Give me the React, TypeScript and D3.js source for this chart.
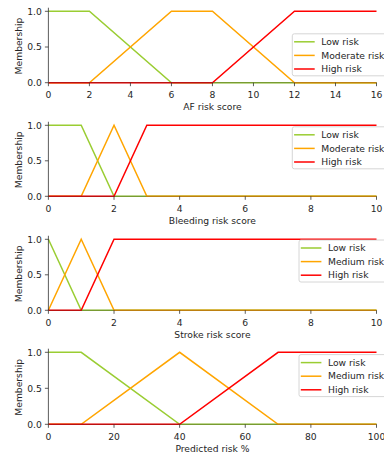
import React from "react";
import * as d3 from "d3";

// ---- data ----
const panelTitles = ["AF risk score", "Bleeding risk score", "Stroke risk score", "Predicted risk %"];
const xMaxes = [16, 10, 10, 100];
const xTicks = [
  [0, 2, 4, 6, 8, 10, 12, 14, 16],
  [0, 2, 4, 6, 8, 10],
  [0, 2, 4, 6, 8, 10],
  [0, 20, 40, 60, 80, 100],
];
const yTicks = [0, 0.5, 1.0];
const seriesNames = [
  ["Low risk", "Moderate risk", "High risk"],
  ["Low risk", "Moderate risk", "High risk"],
  ["Low risk", "Medium risk", "High risk"],
  ["Low risk", "Medium risk", "High risk"],
];

const afX = [0, 2, 6, 8, 12, 16];
const afLow = [1, 1, 0, 0, 0, 0];
const afModerate = [0, 0, 1, 1, 0, 0];
const afHigh = [0, 0, 0, 0, 1, 1];

const bleedX = [0, 1, 2, 3, 10];
const bleedLow = [1, 1, 0, 0, 0];
const bleedModerate = [0, 0, 1, 0, 0];
const bleedHigh = [0, 0, 0, 1, 1];

const strokeX = [0, 1, 2, 10];
const strokeLow = [1, 0, 0, 0];
const strokeMedium = [0, 1, 0, 0];
const strokeHigh = [0, 0, 1, 1];

const predX = [0, 10, 40, 70, 100];
const predLow = [1, 1, 0, 0, 0];
const predMedium = [0, 0, 1, 0, 0];
const predHigh = [0, 0, 0, 1, 1];

const panelX = [afX, bleedX, strokeX, predX];
const panelSeries = [
  [afLow, afModerate, afHigh],
  [bleedLow, bleedModerate, bleedHigh],
  [strokeLow, strokeMedium, strokeHigh],
  [predLow, predMedium, predHigh],
];

// ---- layout / style ----
const colors = ["#9acd32", "#ffa500", "#ff0000"];
const X0 = 48.4;
const X1 = 376.5;
const y0s = [82.7, 196.3, 310.3, 424.3];
const y1s = [11.3, 125.3, 239.3, 352.3];
const legendLeft = [292.3, 292.3, 299, 299];
const legendTop = [33.8, 126.8, 240, 354.6];
const FONT = "DejaVu Sans, sans-serif";
const FS = 9.2;
const TXT = "#262626";
const SPINE = "#333333";

function Panel({ i }: { i: number }) {
  const x = d3.scaleLinear().domain([0, xMaxes[i]]).range([X0, X1]);
  const y = d3.scaleLinear().domain([0, 1]).range([y0s[i], y1s[i]]);
  const xs = panelX[i];
  const line = d3
    .line<number>()
    .x((_, k) => x(xs[k]))
    .y((v) => y(v));
  const top = y(1.05);
  const y0 = y(0);
  const lt = legendTop[i];
  const ll = legendLeft[i];
  return (
    <g>
      {panelSeries[i].map((s, k) => (
        <path key={k} d={line(s) || ""} fill="none" stroke={colors[k]} strokeWidth={1.5} />
      ))}
      {/* spines */}
      <line x1={X0} x2={X0} y1={top} y2={y0} stroke={SPINE} strokeWidth={0.8} />
      <line x1={X0} x2={X1} y1={y0} y2={y0} stroke={SPINE} strokeWidth={0.8} opacity={0.5} />
      {/* y ticks */}
      {yTicks.map((t) => (
        <g key={t}>
          <line x1={X0 - 3.5} x2={X0} y1={y(t)} y2={y(t)} stroke={SPINE} strokeWidth={0.8} />
          <text x={X0 - 6.5} y={y(t)} dy="0.35em" textAnchor="end" fontFamily={FONT} fontSize={FS} fill={TXT}>
            {t.toFixed(1)}
          </text>
        </g>
      ))}
      {/* x ticks */}
      {xTicks[i].map((t) => (
        <g key={t}>
          <line x1={x(t)} x2={x(t)} y1={y0} y2={y0 + 3.5} stroke={SPINE} strokeWidth={0.8} />
          <text x={x(t)} y={y0 + 15.3} textAnchor="middle" fontFamily={FONT} fontSize={FS} fill={TXT}>
            {t}
          </text>
        </g>
      ))}
      <text x={(X0 + X1) / 2} y={y0 + 27.3} textAnchor="middle" fontFamily={FONT} fontSize={FS} fill={TXT}>
        {panelTitles[i]}
      </text>
      <text
        transform={`translate(${21.5},${(y0 + y1s[i]) / 2 - 1}) rotate(-90)`}
        textAnchor="middle"
        fontFamily={FONT}
        fontSize={FS}
        fill={TXT}
      >
        Membership
      </text>
      {/* legend */}
      <rect x={ll} y={lt} width={100} height={42} rx={2} fill="white" fillOpacity={0.8} stroke="#cccccc" strokeWidth={0.8} />
      {seriesNames[i].map((n, k) => {
        const ry = lt + 8 + k * 13.6;
        return (
          <g key={n}>
            <line x1={ll + 1.8} x2={ll + 22.4} y1={ry} y2={ry} stroke={colors[k]} strokeWidth={1.5} />
            <text x={ll + 29} y={ry} dy="0.35em" fontFamily={FONT} fontSize={FS} fill={TXT}>
              {n}
            </text>
          </g>
        );
      })}
    </g>
  );
}

export default function App() {
  return (
    <svg
      width={384}
      height={454}
      style={{ position: "absolute", left: 0, top: 0, background: "white" }}
    >
      <rect width={384} height={454} fill="white" />
      {[0, 1, 2, 3].map((i) => (
        <Panel key={i} i={i} />
      ))}
    </svg>
  );
}
